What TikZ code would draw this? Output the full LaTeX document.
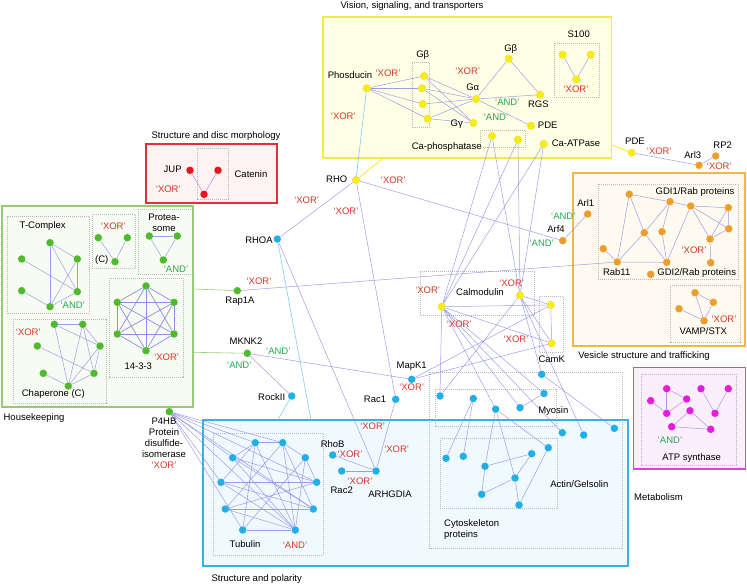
\documentclass[tikz,border=0pt]{standalone}
\usepackage{fontspec}
\setmainfont{Liberation Sans}
\usetikzlibrary{backgrounds}
\definecolor{lav}{HTML}{8C8CE6}
\definecolor{xr}{HTML}{D2382A}
\definecolor{ad}{HTML}{21A84F}
\definecolor{cyy}{HTML}{F5EC1A}
\definecolor{cyg}{HTML}{4DBB2C}
\definecolor{cyr}{HTML}{E8131C}
\definecolor{cyo}{HTML}{EE9C2A}
\definecolor{cyc}{HTML}{22AEE6}
\definecolor{cym}{HTML}{E51CDB}
\definecolor{byb}{HTML}{F2E94A}\definecolor{byf}{HTML}{FFFFE6}
\definecolor{brb}{HTML}{E0313A}\definecolor{brf}{HTML}{FFF2F2}
\definecolor{bgb}{HTML}{95CC73}\definecolor{bgf}{HTML}{F8FBF3}
\definecolor{bob}{HTML}{F4B73E}\definecolor{bof}{HTML}{FFFAEF}
\definecolor{bcb}{HTML}{3BB0E0}\definecolor{bcf}{HTML}{EFF9FE}
\definecolor{bmb}{HTML}{E23CE0}\definecolor{bmf}{HTML}{FDEEFD}
\tikzset{
  nd/.style={circle,inner sep=0pt,minimum size=7.5pt},
  ny/.style={nd,fill=cyy,draw=cyy!80!orange,line width=0.3pt},
  ng/.style={nd,fill=cyg},
  nr/.style={nd,fill=cyr},
  no/.style={nd,fill=cyo},
  nc/.style={nd,fill=cyc},
  nm/.style={nd,fill=cym},
  lb/.style={inner sep=0pt,text=black},
  xo/.style={lb,text=xr},
  an/.style={lb,text=ad},
  ed/.style={draw=lav,line width=0.5pt,opacity=0.85},
  edc/.style={draw=cyc!60,line width=0.6pt},
  grp/.style={draw=gray!55,line width=0.4pt,dash pattern=on 1pt off 1pt},
  bigbox/.style={line width=1.8pt}
}
\begin{document}
\begin{tikzpicture}[x=1pt,y=-1pt,every node/.append style={font=\fontsize{9.5}{11}\selectfont}]
\useasboundingbox (0,0) rectangle (747,585);
% ---------- yellow group
\node[ny] (phos) at (366.7,88.3) {};
\node[ny] (gb1) at (424,76) {};
\node[ny] (gb2) at (422,88.3) {};
\node[ny] (gb3) at (422.7,104) {};
\node[ny] (gb4) at (427.7,118.7) {};
\node[ny] (ga) at (476,99) {};
\node[ny] (gbt) at (508.7,58.7) {};
\node[ny] (rgs) at (540,94.7) {};
\node[ny] (gg) at (473.3,123) {};
\node[ny] (pdea) at (531,125.7) {};
\node[ny] (cap1) at (492,136) {};
\node[ny] (cap2) at (518,139.7) {};
\node[ny] (caatp) at (543.7,144) {};
\node[ny] (s1) at (562.7,54.7) {};
\node[ny] (s2) at (590.7,54.7) {};
\node[ny] (s3) at (576.3,79.3) {};
\node[ny] (rho) at (356,180) {};
\node[ny] (calL) at (441.7,306.7) {};
\node[ny] (calR) at (520,295.3) {};
\node[ny] (camk1) at (550.7,305) {};
\node[ny] (camk2) at (551.7,343.3) {};
\node[ny] (pdeb) at (631.7,152.7) {};
% ---------- orange
\node[no] (arl3) at (699,165.3) {};
\node[no] (rp2) at (715.7,156) {};
\node[no] (arf4) at (562.7,240.7) {};
\node[no] (arl1) at (587.7,214) {};
\node[no] (oa) at (629.3,194.3) {};
\node[no] (ob) at (670,201.7) {};
\node[no] (oc) at (690.7,206) {};
\node[no] (od) at (728.3,207.7) {};
\node[no] (oe) at (644.3,232.7) {};
\node[no] (of) at (662,231.7) {};
\node[no] (og) at (728.7,228.7) {};
\node[no] (oh) at (710,239) {};
\node[no] (oi) at (603.3,248.7) {};
\node[no] (rab) at (617.3,262) {};
\node[no] (oj) at (666.7,262.3) {};
\node[no] (ok) at (710.7,262.7) {};
\node[no] (ol) at (650.7,274.3) {};
\node[no] (v1) at (695,292.7) {};
\node[no] (v2) at (713.3,302.3) {};
\node[no] (v3) at (679,308.7) {};
\node[no] (v4) at (704,320.7) {};
% ---------- red
\node[nr] (jup) at (190,170.3) {};
\node[nr] (ct1) at (218,170.3) {};
\node[nr] (ct2) at (204,194.3) {};
% ---------- green
\node[ng] (tc1) at (50,242.7) {};
\node[ng] (tc2) at (21.7,259) {};
\node[ng] (tc3) at (77.3,259) {};
\node[ng] (tc4) at (21.7,290.7) {};
\node[ng] (tc5) at (77.3,291.7) {};
\node[ng] (tc6) at (50,306.7) {};
\node[ng] (c1) at (98.3,237.7) {};
\node[ng] (c2) at (127.3,237.7) {};
\node[ng] (c3) at (115,261.7) {};
\node[ng] (pr1) at (149.3,236) {};
\node[ng] (pr2) at (177.3,236) {};
\node[ng] (pr3) at (163.3,260) {};
\node[ng] (h1) at (146,286) {};
\node[ng] (h2) at (117.3,302.3) {};
\node[ng] (h3) at (174,302.3) {};
\node[ng] (h4) at (117.3,334) {};
\node[ng] (h5) at (174,334) {};
\node[ng] (h6) at (146,350.7) {};
\node[ng] (ch1) at (54.3,324.3) {};
\node[ng] (ch2) at (82.7,324.3) {};
\node[ng] (ch3) at (100,346) {};
\node[ng] (ch4) at (37.3,346) {};
\node[ng] (ch5) at (43.3,373.3) {};
\node[ng] (ch6) at (94,373.3) {};
\node[ng] (ch7) at (68.3,386) {};
\node[ng] (rap) at (237.3,290.7) {};
\node[ng] (mknk) at (247.3,353.3) {};
\node[ng] (p4hb) at (169.3,411.7) {};
% ---------- cyan
\node[nc] (rhoa) at (277.3,239) {};
\node[nc] (rock) at (291.7,396) {};
\node[nc] (rac1) at (395.7,399.3) {};
\node[nc] (mapk) at (411.7,379.3) {};
\node[nc] (rhob) at (332.7,455) {};
\node[nc] (rac2) at (341.7,471) {};
\node[nc] (arh) at (376,471) {};
\node[nc] (t1) at (255.3,442.7) {};
\node[nc] (t2) at (282.7,442.7) {};
\node[nc] (t3) at (232.7,457.7) {};
\node[nc] (t4) at (305.3,457.7) {};
\node[nc] (t5) at (221,482.3) {};
\node[nc] (t6) at (316.7,482.3) {};
\node[nc] (t7) at (225.3,509) {};
\node[nc] (t8) at (313.3,509) {};
\node[nc] (t9) at (242.7,530) {};
\node[nc] (t10) at (295.3,530) {};
\node[nc] (my1) at (440,396) {};
\node[nc] (my2) at (473.3,398.5) {};
\node[nc] (my3) at (495.7,409.2) {};
\node[nc] (my4) at (520,407.7) {};
\node[nc] (my5) at (544,393.5) {};
\node[nc] (my6) at (541.7,374.3) {};
\node[nc] (x1) at (562.3,432.7) {};
\node[nc] (x2) at (583.7,435) {};
\node[nc] (x3) at (614.3,428.3) {};
\node[nc] (a1) at (446,458.3) {};
\node[nc] (a2) at (463.3,456.3) {};
\node[nc] (a3) at (485,466.3) {};
\node[nc] (a4) at (531.7,453.7) {};
\node[nc] (a5) at (548.3,447.7) {};
\node[nc] (a6) at (515,478) {};
\node[nc] (a7) at (481.7,494.3) {};
\node[nc] (a8) at (519,505) {};
% ---------- magenta
\node[nm] (m1) at (666.7,388.7) {};
\node[nm] (m2) at (650.7,400.7) {};
\node[nm] (m3) at (666.7,413.3) {};
\node[nm] (m4) at (686.7,399) {};
\node[nm] (m5) at (690,410.7) {};
\node[nm] (m6) at (701,388.7) {};
\node[nm] (m7) at (728.3,388.7) {};
\node[nm] (m8) at (715,413.3) {};
\node[nm] (m9) at (671.7,426.7) {};
\node[nm] (m10) at (710.7,429.3) {};
% ---------- free ends
\coordinate (ybot) at (383.3,158);
\coordinate (gE1) at (193.3,289);
\coordinate (gE2) at (193.3,352.3);
\coordinate (bT1) at (311,420);
\coordinate (bT2) at (277.7,420);
\coordinate (yR) at (611.5,145);
% ---------- labels
\node[lb] (L1) at (412,6) {Vision, signaling, and transporters};
\node[lb] (L2) at (350,75) {Phosducin};
\node[xo] (L3) at (388,73) {‘XOR’};
\node[lb] (L4) at (422.7,55) {Gβ};
\node[xo] (L5) at (467.7,71) {‘XOR’};
\node[lb] (L6) at (472.7,87.3) {Gα};
\node[lb] (L7) at (510.7,49.3) {Gβ};
\node[lb] (L8) at (538.3,104) {RGS};
\node[an] (L9) at (507.3,102) {‘AND’};
\node[lb] (L10) at (456.7,124) {Gγ};
\node[an] (L11) at (496,117.3) {‘AND’};
\node[lb] (L12) at (547.7,125) {PDE};
\node[lb] (L13) at (446.7,146.7) {Ca-phosphatase};
\node[lb] (L14) at (576,143.5) {Ca-ATPase};
\node[lb] (L15) at (578.7,34.3) {S100};
\node[xo] (L16) at (576,89.3) {‘XOR’};
\node[xo] (L17) at (343.3,116) {‘XOR’};
\node[lb] (L18) at (336.7,179.3) {RHO};
\node[xo] (L19) at (393.3,180.3) {‘XOR’};
\node[xo] (L20) at (306.7,200) {‘XOR’};
\node[xo] (L21) at (346,211.7) {‘XOR’};
\node[lb] (L22) at (259,240) {RHOA};
\node[lb] (L23) at (216,135.7) {Structure and disc morphology};
\node[lb] (L24) at (172.7,169) {JUP};
\node[xo] (L25) at (168.3,189) {‘XOR’};
\node[lb] (L26) at (251,174.3) {Catenin};
\node[lb] (L27) at (480,292.3) {Calmodulin};
\node[xo] (L28) at (427.7,290.7) {‘XOR’};
\node[xo] (L29) at (511.7,283.3) {‘XOR’};
\node[xo] (L30) at (459.3,324) {‘XOR’};
\node[xo] (L31) at (516,339.3) {‘XOR’};
\node[lb] (L32) at (551.7,359.3) {CamK};
\node[lb] (L33) at (411.7,366.7) {MapK1};
\node[xo] (L34) at (411.7,387.7) {‘XOR’};
\node[lb] (L35) at (375,399) {Rac1};
\node[lb] (L36) at (556,229) {Arf4};
\node[an] (L37) at (541.7,243.3) {‘AND’};
\node[an] (L38) at (563.3,216) {‘AND’};
\node[lb] (L39) at (585.7,203.3) {Arl1};
\node[lb] (L40) at (635,141.7) {PDE};
\node[xo] (L41) at (659.3,151.7) {‘XOR’};
\node[lb] (L42) at (692.7,155) {Arl3};
\node[lb] (L43) at (722.7,145) {RP2};
\node[xo] (L44) at (719.3,166.7) {‘XOR’};
\node[lb] (L45) at (644,356) {Vesicle structure and trafficking};
\node[lb] (L46) at (695,192.3) {GDI1/Rab proteins};
\node[xo] (L47) at (694,250.7) {‘XOR’};
\node[lb] (L48) at (616.7,271.7) {Rab11};
\node[lb] (L49) at (696.7,273.3) {GDI2/Rab proteins};
\node[xo] (L50) at (724,319.3) {‘XOR’};
\node[lb] (L51) at (703.3,331) {VAMP/STX};
\node[lb] (L52) at (34,418.3) {Housekeeping};
\node[lb] (L53) at (42.7,225.7) {T-Complex};
\node[an] (L54) at (72.7,305.7) {‘AND’};
\node[xo] (L55) at (113.3,226) {‘XOR’};
\node[lb] (L56) at (101.7,260) {(C)};
\node[lb,align=center] (L57) at (164,222.5) {Protea-\\some};
\node[an] (L58) at (176,269) {‘AND’};
\node[xo] (L59) at (166.7,357.3) {‘XOR’};
\node[lb] (L60) at (138.3,366.7) {14-3-3};
\node[xo] (L61) at (28.3,332.7) {‘XOR’};
\node[lb] (L62) at (53.3,394) {Chaperone (C)};
\node[lb] (L63) at (240,301) {Rap1A};
\node[xo] (L64) at (259,281.7) {‘XOR’};
\node[lb] (L65) at (246,340.7) {MKNK2};
\node[an] (L66) at (278.3,351.7) {‘AND’};
\node[an] (L67) at (239.3,365.7) {‘AND’};
\node[lb] (L68) at (271.7,396.7) {RockII};
\node[lb,align=center] (L69) at (164,443.5) {P4HB\\Protein\\disulfide-\\isomerase\\\textcolor{xr}{‘XOR’}};
\node[lb] (L70) at (256.7,579.3) {Structure and polarity};
\node[lb] (L71) at (245,544.3) {Tubulin};
\node[xo] (L72) at (295,545) {‘AND’};
\node[lb] (L73) at (332.7,444) {RhoB};
\node[xo] (L74) at (350,454) {‘XOR’};
\node[xo] (L75) at (372.7,426.7) {‘XOR’};
\node[xo] (L76) at (396.7,449.3) {‘XOR’};
\node[xo] (L77) at (360,481) {‘XOR’};
\node[lb] (L78) at (341.7,490) {Rac2};
\node[lb] (L79) at (390,494) {ARHGDIA};
\node[lb] (L80) at (553.3,411) {Myosin};
\node[lb] (L81) at (579.3,483.7) {Actin/Gelsolin};
\node[lb,anchor=west,align=left] (L82) at (444,530) {Cytoskeleton\\proteins};
\node[lb,anchor=west] (L83) at (634,497) {Metabolism};
\node[an] (L84) at (670,440) {‘AND’};
\node[lb] (L85) at (691.7,458.3) {ATP synthase};
% ---------- background: boxes and edges
\begin{pgfonlayer}{background}
\draw[bigbox,draw=byb,fill=byf] (323,17) rectangle (611.5,158);
\draw[bigbox,draw=brb,fill=brf] (146,144.3) rectangle (277.3,203.3);
\draw[bigbox,draw=bgb,fill=bgf] (1.7,206) rectangle (193.3,406.7);
\draw[bigbox,draw=bob,fill=bof] (573.3,173.3) rectangle (745,346);
\draw[bigbox,draw=bmb,fill=bmf] (633.5,367.5) rectangle (745.5,469);
\draw[bigbox,draw=bcb,fill=bcf] (202.7,420) rectangle (628.3,566);
\draw[grp] (411.7,62.7) rectangle (429.3,127.7);
\draw[grp] (480,130) rectangle (525.3,147.3);
\draw[grp] (554.3,43.3) rectangle (599.3,97.3);
\draw[grp] (196.7,148.3) rectangle (228.3,199);
\draw[grp] (6.7,216.7) rectangle (89.3,313.3);
\draw[grp] (91.7,214.3) rectangle (135.3,268.3);
\draw[grp] (138.3,209.3) rectangle (192.7,274);
\draw[grp] (108.7,278.3) rectangle (182.7,376.7);
\draw[grp] (12.7,319.3) rectangle (106,402.7);
\draw[grp] (420,271.7) rectangle (534.3,315);
\draw[grp] (539.3,296.7) rectangle (563.3,352.3);
\draw[grp] (598.3,184.3) rectangle (738.3,279);
\draw[grp] (670,285) rectangle (740,341.7);
\draw[grp] (640.7,374) rectangle (736,465);
\draw[grp] (213.3,432.7) rectangle (322.7,555);
\draw[grp] (429.5,371.7) rectangle (621.7,548.3);
\draw[grp] (435,389.3) rectangle (556,426);
\draw[grp] (440,438.3) rectangle (556.7,508.3);
% connectors
\draw[draw=cyy,line width=0.8pt] (rho) -- (ybot);
\draw[draw=cyy,line width=0.8pt] (pdeb) -- (yR);
\draw[draw=bgb,line width=0.6pt] (gE1) -- (rap);
\draw[draw=bgb,line width=0.6pt] (gE2) -- (mknk);
\draw[edc] (phos) -- (rho);
\draw[edc] (rhoa) -- (bT1);
\draw[edc] (rock) -- (bT2);
\foreach \a/\b in {phos/gb1,phos/gb2,phos/gb3,phos/gb4,gb1/ga,gb1/gg,gb2/ga,gb2/gg,gb3/ga,gb4/ga,gb4/gg,
  ga/gbt,ga/rgs,gbt/rgs,ga/pdea,s1/s3,s2/s3,
  rho/rhoa,rho/arf4,rho/rac1,rhoa/arh,mknk/rock,mknk/mapk,rap/rab,
  rac1/arh,rhob/arh,rac2/arh,mapk/camk1,mapk/camk2,
  cap1/calL,cap1/calR,cap2/calL,cap2/calR,caatp/calL,caatp/calR,
  calL/camk1,calL/camk2,calR/camk1,calR/camk2,camk1/camk2,
  calL/my1,calL/my3,calL/my4,calL/my5,calL/x1,calR/my1,calR/my6,calR/x2,my6/x3,
  my2/a1,my2/a2,my3/a3,my3/a6,my3/a5,my4/my5,
  a3/a4,a3/a7,a7/a6,a6/a4,a6/a8,a8/a5,
  pdeb/arl3,arl3/rp2,arf4/arl1,
  oa/ob,ob/oc,oc/od,oa/rab,oa/oe,oe/ob,oe/rab,oe/oj,of/ob,of/oj,oc/oj,oc/oh,oc/og,od/og,od/oh,oh/og,oh/ok,oi/rab,rab/oj,
  v1/v2,v1/v4,v2/v4,v3/v4,
  jup/ct2,ct1/ct2,
  tc1/tc6,tc1/tc3,tc1/tc5,tc2/tc5,tc3/tc5,tc3/tc6,tc4/tc6,tc5/tc6,
  c1/c3,c2/c3,pr1/pr2,pr2/pr3,pr3/pr1,
  ch1/ch2,ch1/ch7,ch1/ch3,ch2/ch3,ch2/ch6,ch2/ch7,ch4/ch6,ch5/ch7,ch6/ch7,ch3/ch7,ch3/ch6,
  p4hb/t1,p4hb/t2,p4hb/t3,p4hb/t5,p4hb/t6,p4hb/t8,p4hb/t9,p4hb/t10,
  t1/t2,t1/t3,t1/t5,t1/t9,t1/t10,t2/t4,t2/t10,t2/t8,t3/t6,t3/t8,t4/t6,t4/t10,t5/t6,t5/t10,
  t6/t7,t7/t10,t7/t8,t9/t10,t3/t10,t2/t7,t9/t4,t5/t8,
  m1/m3,m2/m3,m3/m4,m1/m4,m6/m8,m7/m8,m5/m9,m5/m10,m9/m10}
  \draw[ed] (\a) -- (\b);
\foreach \a in {h1,h2,h3,h4,h5,h6}
  \foreach \b in {h1,h2,h3,h4,h5,h6}
    \draw[ed] (\a) -- (\b);
\end{pgfonlayer}
\end{tikzpicture}
\end{document}
